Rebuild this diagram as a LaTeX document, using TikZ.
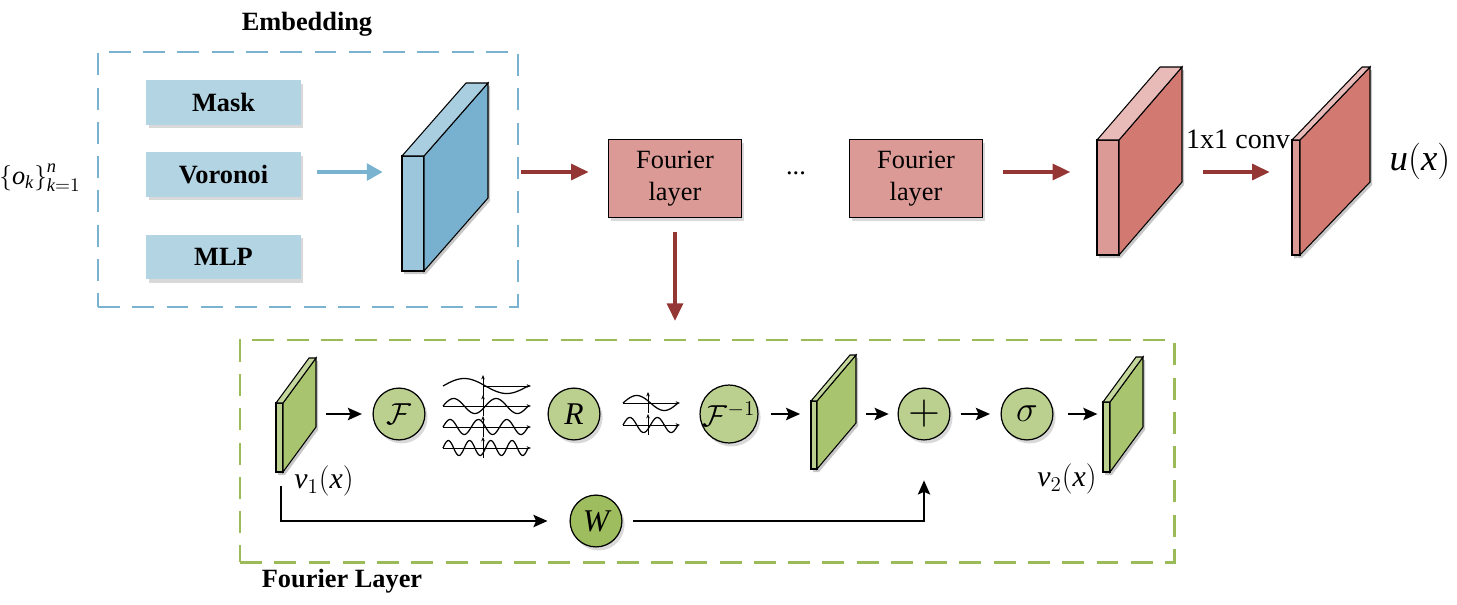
\documentclass[tikz,border=0pt]{standalone}
\usepackage{amsmath}
\usepackage{amssymb}
\usepackage{fontspec}
\setmainfont{Liberation Serif}
\usetikzlibrary{arrows.meta,shadows,fit}

\definecolor{embline}{HTML}{79B3D0}
\definecolor{maskblue}{HTML}{B3D4E3}
\definecolor{blufront}{HTML}{9CC6DB}
\definecolor{bluside}{HTML}{78B1CF}
\definecolor{blutop}{HTML}{A9CEE0}
\definecolor{arrred}{HTML}{943634}
\definecolor{fourred}{HTML}{DC9A97}
\definecolor{redfront}{HTML}{DC9A97}
\definecolor{redside}{HTML}{D27A71}
\definecolor{redtop}{HTML}{E8BBB8}
\definecolor{frameline}{HTML}{9BBB59}
\definecolor{opgreen}{HTML}{BBD08E}
\definecolor{wgreen}{HTML}{9DBD5E}
\definecolor{grnfront}{HTML}{BBD08E}
\definecolor{grnside}{HTML}{A9C46E}
\definecolor{grntop}{HTML}{C4D79C}

% feature map: name, x, y, width, height, depth x, depth y, colour prefix
\newcommand{\cuboid}[8]{%
  \begin{scope}[shift={(2,3)}]
    \fill[black, opacity=.22] (#2,#3+#5) -- (#2,#3) -- (#2+#6,#3-#7) -- (#2+#4+#6,#3-#7)
      -- (#2+#4+#6,#3+#5-#7) -- (#2+#4,#3+#5) -- cycle;
  \end{scope}
  \filldraw[fill=#8front, line width=.6pt] (#2,#3) rectangle (#2+#4,#3+#5);
  \filldraw[fill=#8side, line width=.6pt] (#2+#4,#3) -- ++(#6,-#7) -- ++(0,#5) -- ++(-#6,#7) -- cycle;
  \filldraw[fill=#8top, line width=.6pt] (#2,#3) -- ++(#6,-#7) -- ++(#4,0) -- ++(-#6,#7) -- cycle;
  \node[fit={(#2,#3-#7) (#2+#4+#6,#3+#5)}, inner sep=0pt] (#1) {};
}

\begin{document}
\begin{tikzpicture}[x=0.02cm, y=-0.02cm,
    shade/.style={drop shadow={shadow xshift=1.5pt, shadow yshift=-2pt, opacity=.3}},
    embbox/.style={shade, fill=maskblue, minimum width=88pt, minimum height=25.5pt,
      font=\fontsize{15}{18}\selectfont\bfseries},
    fourbox/.style={shade, draw, fill=fourred, line width=.7pt, minimum width=76pt,
      minimum height=44.5pt, align=center, font=\fontsize{15}{18}\selectfont},
    op/.style={shade, circle, draw, fill=opgreen, line width=.7pt, minimum size=29.5pt,
      inner sep=0pt, font=\fontsize{18}{20}\selectfont},
    embframe/.style={draw=embline, line width=1.7pt, dash pattern=on 12.5pt off 7pt, inner sep=0pt},
    fourframe/.style={draw=frameline, line width=1.7pt, dash pattern=on 12.5pt off 7pt, inner sep=0pt},
    title/.style={font=\fontsize{15}{18}\selectfont\bfseries},
    label/.style={font=\fontsize{16}{18}\selectfont},
    redarr/.style={draw=arrred, line width=2pt, -{Triangle[length=10pt, width=9pt]}},
    bluarr/.style={draw=embline, line width=2pt, -{Triangle[length=9pt, width=9.5pt]}},
    blkarr/.style={line width=1.2pt, -{Stealth[length=8pt, width=7pt, inset=1.5pt]}},
    axis/.style={line width=.5pt, -{Stealth[length=2.5pt, width=2pt]}},
    wave/.style={line width=.7pt}
]
    \useasboundingbox (0,0) rectangle (1457,605);

    % Embedding
    \node[embframe, fit={(98,52) (518,307)}] (embed) {};
    \node[title] (embtitle) at (307,24) {Embedding};
    \node[font=\fontsize{15}{17}\selectfont] (obs) at (40,178) {$\left\{\mathit{o}_{\mathit{k}}\right\}_{\mathit{k}=1}^{\mathit{n}}$};
    \node[embbox] (mask) at (223.5,102.5) {Mask};
    \node[embbox] (voronoi) at (223.5,174.5) {Voronoi};
    \node[embbox] (mlp) at (223.5,257) {MLP};
    \cuboid{embout}{402}{156}{22}{115}{64}{73}{blu}
    \draw[bluarr, shorten <=9pt, shorten >=10.8pt] ([yshift=1.4pt]voronoi.east) -- ([yshift=1.4pt]voronoi.east -| embout.west);

    % Fourier layers
    \node[fourbox] (four1) at (675,178.5) {Fourier\\layer};
    \node[font=\fontsize{15}{18}\selectfont] (dots) at (796,173) {...};
    \node[fourbox] (four2) at (916,178.5) {Fourier\\layer};
    \cuboid{feat}{1097}{140}{22}{115}{63}{73}{red}
    \cuboid{out}{1292}{140}{8}{115}{70}{73}{red}
    \node[label] (conv) at (1238,139) {1x1 conv};
    \node[font=\fontsize{21}{24}\selectfont] (ux) at (1420,161) {$\mathit{u}(\mathit{x})$};

    \draw[redarr, shorten <=1.1pt, shorten >=10.8pt] ([yshift=3.7pt]embed.east |- four1.west) -- ([yshift=3.7pt]four1.west);
    \draw[redarr, shorten <=11pt, shorten >=15pt] ([yshift=3.7pt]four2.east) -- ([yshift=3.7pt]four2.east -| feat.west);
    \draw[redarr, shorten <=12pt, shorten >=12.5pt] ([yshift=3.7pt]feat.east |- four2.east) -- ([yshift=3.7pt]four2.east -| out.west);

    % Fourier layer detail
    \node[fourframe, fit={(240,340) (1174,562)}] (fourframe) {};
    \node[title] (fourtitle) at (342,581) {Fourier Layer};
    \draw[redarr, shorten <=8pt, shorten >=10pt] (four1.south) -- (four1.south |- fourframe.north);

    \cuboid{v1}{276}{403}{7}{69}{33}{45}{grn}
    \cuboid{mid}{811}{401}{6}{68}{39}{46}{grn}
    \cuboid{v2}{1103}{402}{7}{70}{33}{45}{grn}
    \node[label, font=\fontsize{17}{19}\selectfont] (v1lab) at (324,481) {$\mathit{v}_1(\mathit{x})$};
    \node[label, font=\fontsize{17}{19}\selectfont] (v2lab) at (1067,479) {$\mathit{v}_2(\mathit{x})$};

    \node[op] (fft) at (399,414) {$\mathcal{F}$};
    \node[op] (rr) at (574,414) {$\mathit{R}$};
    \node[op] (ifft) at (729,414) {$\mathcal{F}^{-1}$};
    \node[op, font=\fontsize{26}{26}\selectfont] (add) at (924,414) {$+$};
    \node[op, font=\fontsize{22}{22}\selectfont] (act) at (1027,414) {$\sigma$};
    \node[op, fill=wgreen] (w) at (596,521) {$\mathit{W}$};
    \coordinate (skip) at (281,486);

    \draw[blkarr, shorten <=5.7pt, shorten >=6pt] (v1.east |- fft) -- (fft);
    \draw[blkarr, shorten <=7pt, shorten >=6pt] (ifft) -- (ifft -| mid.west);
    \draw[blkarr, shorten <=5.7pt, shorten >=5pt] (mid.east |- add) -- (add);
    \draw[blkarr, shorten <=5.7pt, shorten >=6pt] (add) -- (act);
    \draw[blkarr, shorten <=8.5pt, shorten >=3pt] (act) -- (act -| v2.west);
    \draw[blkarr, shorten >=12.5pt] (skip) |- (w);
    \draw[blkarr, shorten <=6pt, shorten >=22.7pt] (w) -| (add);

    % spectra
    \foreach \k/\yy/\xa in {1/386/483, 2/406/443, 3/427/443, 4/448/443} {
        \draw[axis] (\xa,\yy) -- (531,\yy);
        \draw[axis] (483,\yy+10) -- (483,\yy-11);
        \draw[wave] plot[domain=443:528, samples=80, smooth] (\x, {\yy - 7.5*sin((\x-443)/85*360*\k)});
    }
    \foreach \k/\yy in {1/403, 2/425} {
        \draw[axis] (623,\yy) -- (680,\yy);
        \draw[axis] (648,\yy+10) -- (648,\yy-11);
        \draw[wave] plot[domain=623:678, samples=60, smooth] (\x, {\yy - 7.5*sin((\x-623)/55*360*\k)});
    }
\end{tikzpicture}
\end{document}
